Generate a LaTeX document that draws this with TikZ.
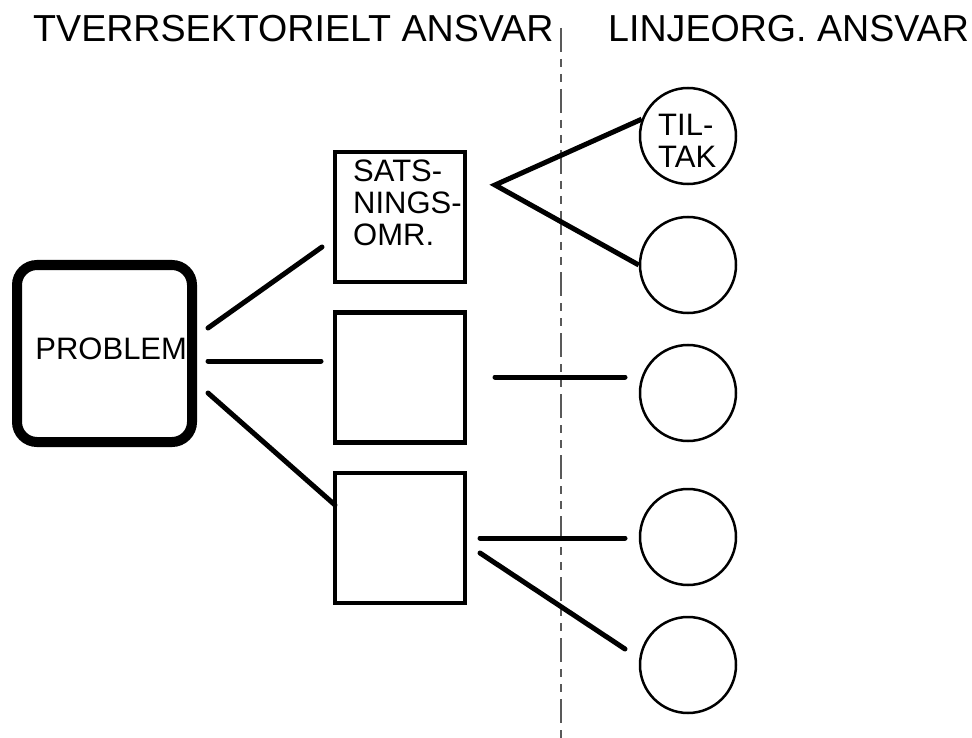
\documentclass[tikz,border=0pt]{standalone}
\usepackage{fontspec}
\setmainfont{Liberation Sans}
\usetikzlibrary{positioning}

\tikzset{
  probbox/.style={draw, rectangle, rounded corners=20pt, line width=10pt,
    minimum width=175pt, minimum height=177pt, inner sep=0pt,
    text width=165pt, align=right, text depth=9pt,
    font=\fontsize{31}{32}\selectfont},
  omrbox/.style={draw, rectangle, line width=4.5pt, minimum size=130pt, inner sep=0pt},
  tiltakring/.style={draw, circle, line width=2.5pt, minimum size=96pt, inner sep=0pt},
  boxtext/.style={inner sep=0pt, anchor=north west, align=left, font=\fontsize{31}{32}\selectfont},
  heading/.style={inner sep=0pt, anchor=base west, font=\fontsize{37.6}{40}\selectfont},
  conn/.style={line width=5pt, line cap=round},
  skille/.style={black!65, line width=1.2pt, dash pattern=on 24pt off 7pt on 8pt off 7pt on 8pt off 7pt}
}

\begin{document}
\begin{tikzpicture}[x=1pt, y=-1pt]
  \useasboundingbox (0,0) rectangle (972,738);

  \node [heading] (tverr) at (33,42) {TVERRSEKTORIELT ANSVAR};
  \node [heading] (linje) at (608,42) {LINJEORG. ANSVAR};
  \coordinate (skilletopp) at (561,28);
  \coordinate (skillebunn) at (561,738);
  \draw [skille] (skilletopp) -- (skillebunn);

  \node [probbox] (problem) at (104.5,353.5) {PROBLEM};

  \node [omrbox] (omr1) at (400,217) {};
  \node [omrbox] (omr2) at (400,377.5) {};
  \node [omrbox] (omr3) at (400,538) {};
  \node [boxtext] (omrtekst) at (353,160) {SATS-\\NINGS-\\OMR.};

  \node [tiltakring] (tiltak1) at (688,136) {};
  \node [tiltakring] (tiltak2) at (688,265) {};
  \node [tiltakring] (tiltak3) at (688,393) {};
  \node [tiltakring] (tiltak4) at (688,537) {};
  \node [tiltakring] (tiltak5) at (688,665) {};
  \node [boxtext] (tiltaktekst) at (658,114) {TIL-\\TAK};

  \coordinate (pa) at (208,328);
  \coordinate (pb) at (208,361);
  \coordinate (pc) at (208,393);
  \coordinate (oa) at (322,247);
  \coordinate (ob) at (321,361);
  \coordinate (oc) at (335,505);
  \draw [conn] (pa) -- (oa);
  \draw [conn] (pb) -- (ob);
  \draw [conn] (pc) -- (oc);

  \coordinate (spiss) at (495,185);
  \draw [conn, line cap=butt] (tiltak1.160) -- (spiss) -- (tiltak2.west);

  \coordinate (m1) at (495,377);
  \coordinate (m2) at (625,377);
  \draw [conn] (m1) -- (m2);

  \coordinate (n1) at (480,538);
  \coordinate (n2) at (625,538);
  \coordinate (n3) at (480,553);
  \coordinate (n4) at (625,649);
  \draw [conn] (n1) -- (n2);
  \draw [conn] (n3) -- (n4);
\end{tikzpicture}
\end{document}
